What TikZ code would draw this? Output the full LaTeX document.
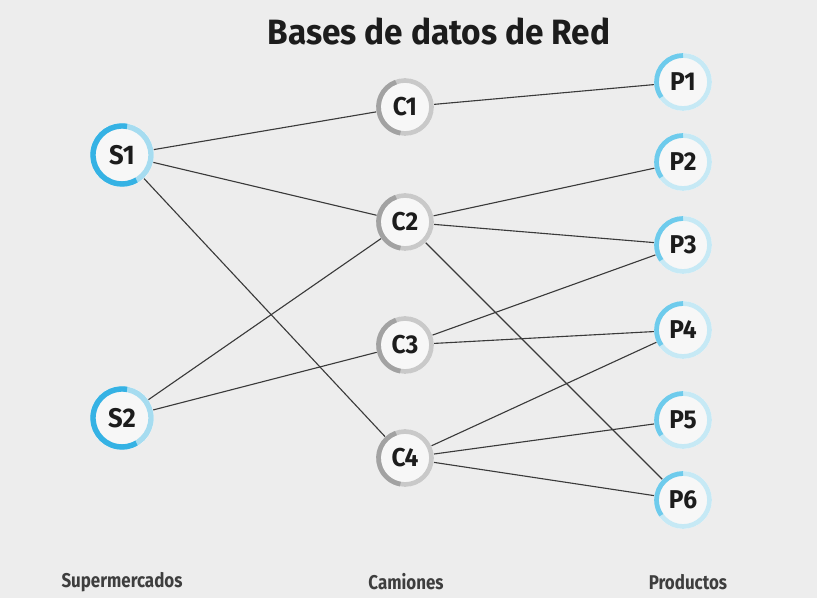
\documentclass[tikz,border=0pt]{standalone}
\usepackage{fontspec}
\setmainfont{Fira Sans}[FakeStretch=0.85]
\newfontfamily\wideff{Fira Sans}[FakeStretch=0.95]
\definecolor{bgc}{HTML}{EDEDED}
\definecolor{inner}{HTML}{F7F7F7}
\definecolor{slight}{HTML}{A6DCF0}
\definecolor{sdark}{HTML}{35B2E4}
\definecolor{plight}{HTML}{C6E9F5}
\definecolor{pdark}{HTML}{6ECBEC}
\definecolor{clight}{HTML}{C9C9C9}
\definecolor{cdark}{HTML}{A2A2A2}
\definecolor{edgec}{HTML}{3A3A3A}
\definecolor{txt}{HTML}{1C1C1C}
\newcommand\myring[7]{%
  \draw[#4,line width=#3] (#1.center) circle[radius=#2];
  \draw[#5,line width=#3] ([shift={(#6:#2)}]#1.center) arc[start angle=#6,end angle=#7,radius=#2];}
\begin{document}
\begin{tikzpicture}[x=0.03cm,y=0.03cm,
  snode/.style={circle,fill=inner,inner sep=0pt,minimum size=1.92cm,font=\wideff\bfseries\fontsize{23}{26}\selectfont,text=txt},
  cnode/.style={circle,fill=inner,inner sep=0pt,minimum size=1.74cm,font=\wideff\bfseries\fontsize{22}{25}\selectfont,text=txt},
  pnode/.style={circle,fill=inner,inner sep=0pt,minimum size=1.74cm,font=\wideff\bfseries\fontsize{22}{25}\selectfont,text=txt},
  lbl/.style={font=\bfseries\fontsize{17}{20}\selectfont,text=txt!85},
  edge/.style={edgec,line width=0.95pt}]
\fill[bgc] (0,0) rectangle (817,598);
\useasboundingbox (0,0) rectangle (817,598);
\node[font=\wideff\bfseries\fontsize{30}{34}\selectfont,text=txt] (title) at (439,567) {Bases de datos de Red};
\node[snode] (S1) at (122,443) {S1};
\node[snode] (S2) at (122,180) {S2};
\node[cnode] (C1) at (405,491) {C1};
\node[cnode] (C2) at (405,376) {C2};
\node[cnode] (C3) at (405,253) {C3};
\node[cnode] (C4) at (405,140) {C4};
\node[pnode] (P1) at (683,516) {P1};
\node[pnode] (P2) at (683,436) {P2};
\node[pnode] (P3) at (683,353) {P3};
\node[pnode] (P4) at (683,268) {P4};
\node[pnode] (P5) at (683,178) {P5};
\node[pnode] (P6) at (683,98) {P6};
\node[lbl] (l1) at (122,16) {Supermercados};
\node[lbl] (l2) at (406,16) {Camiones};
\node[lbl] (l3) at (688,16) {Productos};
\foreach \a/\b in {S1/C1,S1/C2,S1/C4,S2/C2,S2/C3,C1/P1,C2/P2,C2/P3,C2/P6,C3/P3,C3/P4,C4/P4,C4/P5,C4/P6}
  \draw[edge] (\a) -- (\b);
\foreach \n in {S1,S2} {\myring{\n}{29}{4.6pt}{slight}{sdark}{80}{300}}
\foreach \n in {C1,C2,C3,C4} {\myring{\n}{26.5}{4pt}{clight}{cdark}{110}{260}}
\foreach \n in {P1,P2,P3,P4,P5,P6} {\myring{\n}{26.5}{4pt}{plight}{pdark}{90}{215}}
\end{tikzpicture}
\end{document}
